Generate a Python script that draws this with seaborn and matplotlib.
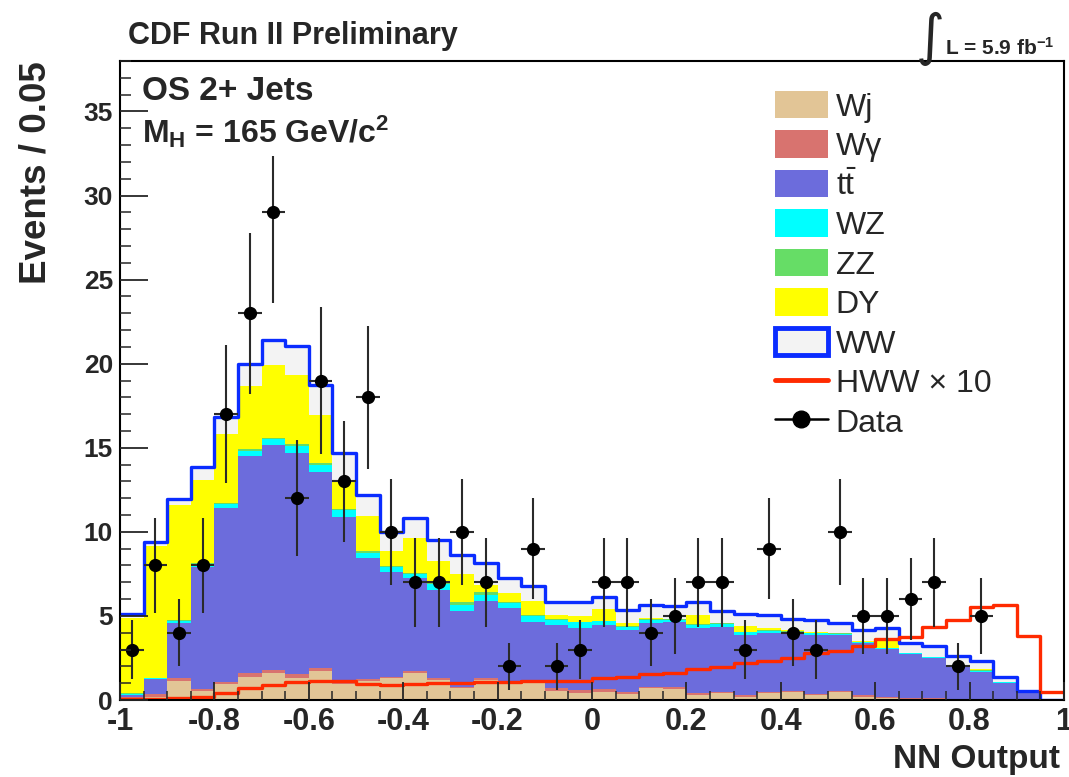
import numpy as np
import pandas as pd
import matplotlib
matplotlib.use("Agg")
import matplotlib.pyplot as plt
import seaborn as sns
from matplotlib.patches import Patch
from matplotlib.lines import Line2D
from matplotlib.ticker import MultipleLocator, FuncFormatter

# ---------------- data (events per 0.05 bin, NN output -1 .. 1) ----------------
bin_edges = np.linspace(-1.0, 1.0, 41)

wj = [0.10, 0.20, 1.15, 0.53, 0.93, 1.39, 1.58, 1.33, 1.74, 0.93,
      1.15, 1.28, 1.62, 1.19, 0.69, 1.19, 0.99, 0.99, 0.55, 0.43,
      0.50, 0.36, 0.69, 0.63, 0.30, 0.40, 0.20, 0.40, 0.46, 0.30,
      0.50, 0.20, 0.10, 0.05, 0.05, 0.05, 0.04, 0.02, 0.01, 0.00]
wgamma = [0.10, 0.15, 0.14, 0.12, 0.16, 0.23, 0.20, 0.20, 0.18, 0.12,
          0.12, 0.09, 0.12, 0.12, 0.10, 0.12, 0.12, 0.12, 0.14, 0.16,
          0.13, 0.14, 0.10, 0.12, 0.10, 0.10, 0.10, 0.10, 0.08, 0.08,
          0.05, 0.10, 0.05, 0.05, 0.05, 0.03, 0.02, 0.02, 0.01, 0.00]
ttbar = [0.10, 0.88, 3.26, 7.27, 10.30, 12.88, 13.37, 13.17, 11.65, 9.85,
         7.15, 6.22, 5.49, 5.26, 4.52, 4.59, 4.34, 3.54, 3.77, 3.72,
         3.82, 3.64, 3.76, 3.90, 3.90, 3.86, 3.58, 3.49, 3.40, 3.50,
         3.31, 3.07, 2.88, 2.63, 2.38, 1.90, 1.62, 0.99, 0.38, 0.01]
wz = [0.08, 0.07, 0.16, 0.18, 0.24, 0.30, 0.35, 0.40, 0.43, 0.38,
      0.33, 0.31, 0.27, 0.33, 0.33, 0.34, 0.33, 0.35, 0.29, 0.31,
      0.23, 0.22, 0.20, 0.12, 0.16, 0.16, 0.14, 0.13, 0.12, 0.10,
      0.07, 0.08, 0.07, 0.05, 0.05, 0.05, 0.06, 0.03, 0.03, 0.00]
zz = [0.02, 0.03, 0.04, 0.04, 0.07, 0.10, 0.10, 0.12, 0.12, 0.07,
      0.10, 0.08, 0.08, 0.08, 0.20, 0.16, 0.06, 0.05, 0.05, 0.04,
      0.04, 0.04, 0.04, 0.03, 0.04, 0.04, 0.03, 0.03, 0.03, 0.03,
      0.03, 0.02, 0.02, 0.02, 0.02, 0.02, 0.02, 0.01, 0.01, 0.00]
dy = [4.45, 7.84, 6.84, 4.97, 4.14, 3.76, 4.30, 4.09, 2.85, 1.75,
      2.10, 0.89, 2.07, 1.28, 1.65, 0.43, 0.50, 0.85, 0.25, 0.34,
      0.67, 0.15, 0.09, 0.02, 0.55, 0.04, 0.35, 0.15, 0.07, 0.05,
      0.02, 0.03, 0.38, 0.01, 0.02, 0.03, 0.06, 0.02, 0.03, 0.00]
ww = [0.25, 0.20, 0.35, 0.75, 1.00, 1.32, 1.53, 1.72, 1.79, 1.60,
      1.27, 1.13, 1.18, 1.25, 1.11, 1.29, 0.91, 0.85, 0.77, 0.82,
      0.75, 0.80, 0.74, 0.75, 0.79, 0.70, 0.73, 0.75, 0.63, 0.69,
      0.62, 0.66, 0.80, 0.60, 0.64, 0.53, 0.50, 0.26, 0.06, 0.01]
hww_x10 = [0.03, 0.05, 0.10, 0.20, 0.44, 0.69, 0.89, 1.09, 1.15, 1.15,
           0.93, 0.89, 0.93, 0.99, 1.03, 1.09, 1.09, 1.13, 1.15, 1.15,
           1.29, 1.39, 1.53, 1.62, 1.82, 1.94, 2.18, 2.32, 2.48, 2.77,
           2.93, 3.23, 3.60, 3.76, 4.36, 4.75, 5.55, 5.65, 3.80, 0.48]
data = [3, 8, 4, 8, 17, 23, 29, 12, 19, 13,
        18, 10, 7, 7, 10, 7, 2, 9, 2, 3,
        7, 7, 4, 5, 7, 7, 3, 9, 4, 3,
        10, 5, 5, 6, 7, 2, 5, np.nan, np.nan, np.nan]

labels = ["Wj", "W\u03b3", r"$\mathregular{t\bar{t}}$", "WZ", "ZZ", "DY", "WW"]
colors = ["#e2c596", "#d8736f", "#6c6cdc", "#00ffff", "#66dd66", "#ffff00", "#f3f3f3"]
ww_edge = "#0a2cff"
hww_color = "#ff2a00"

# ---------------- style ----------------
sns.set_style("ticks")
plt.rcParams["font.family"] = ["Liberation Sans", "DejaVu Sans"]
plt.rcParams["mathtext.fontset"] = "custom"
plt.rcParams["mathtext.rm"] = "Liberation Sans"
plt.rcParams["mathtext.bf"] = "Liberation Sans:bold"
plt.rcParams["mathtext.default"] = "regular"
plt.rcParams["axes.unicode_minus"] = False

W, H = 1069, 777
fig = plt.figure(figsize=(W / 100, H / 100), dpi=100)
fig.patch.set_facecolor("white")
ax = fig.add_axes([120 / W, 77 / H, 944 / W, 639 / H])
ax.set_facecolor("white")


def fx(px):
    return px / W


def fy(py):
    return 1 - py / H


centers = 0.5 * (bin_edges[:-1] + bin_edges[1:])
edges_list = [float(e) for e in bin_edges]
stack = np.array([wj, wgamma, ttbar, wz, zz, dy, ww], dtype=float)
cum = np.cumsum(stack, axis=0)

df = pd.DataFrame({"nn": centers})
for k in range(len(labels)):
    df["cum%d" % k] = cum[k]
df["hww"] = np.array(hww_x10, dtype=float)

# stacked histograms drawn like a ROOT THStack: largest cumulative first
for k in range(len(labels) - 1, -1, -1):
    sns.histplot(data=df, x="nn", weights="cum%d" % k, bins=edges_list, element="step",
                 fill=True, color=colors[k], alpha=1, linewidth=0, ax=ax,
                 zorder=1)

# WW outline (total) in blue
sns.histplot(data=df, x="nn", weights="cum%d" % (len(labels) - 1), bins=edges_list,
             element="step", fill=False, color=ww_edge, linewidth=2.4, ax=ax,
             zorder=1.6)
# Higgs signal x10
sns.histplot(data=df, x="nn", weights="hww", bins=edges_list, element="step",
             fill=False, color=hww_color, linewidth=2.4, ax=ax, zorder=1.8)

# data points
data_arr = np.array(data, dtype=float)
ax.errorbar(centers, data_arr, yerr=np.sqrt(data_arr), xerr=0.025,
            fmt="o", color="black", ecolor="#2a2a2a", ms=8.5, elinewidth=1.5,
            capsize=0, zorder=2.2)

# ---------------- axes ----------------
ax.set_xlim(-1, 1)
ax.set_ylim(0, 38)
ax.set_xlabel("")
ax.set_ylabel("")
ax.set_axisbelow(False)
for s in ax.spines.values():
    s.set_visible(True)
    s.set_linewidth(1.5)
    s.set_color("black")

ax.xaxis.set_major_locator(MultipleLocator(0.2))
ax.xaxis.set_minor_locator(MultipleLocator(0.05))
ax.yaxis.set_major_locator(MultipleLocator(5))
ax.yaxis.set_minor_locator(MultipleLocator(1))
ax.xaxis.set_major_formatter(FuncFormatter(lambda v, p: "%g" % round(v, 2)))
ax.yaxis.set_major_formatter(FuncFormatter(lambda v, p: "%d" % round(v)))

ax.tick_params(axis="x", which="major", direction="in", length=13, width=1.3,
               labelsize=22, pad=5, top=False)
ax.tick_params(axis="x", which="minor", direction="in", length=6.5, width=1.1, top=False)
ax.tick_params(axis="y", which="major", direction="in", length=20, width=1.3,
               labelsize=19, pad=5, right=False)
ax.tick_params(axis="y", which="minor", direction="in", length=8, width=1.1, right=False)
for lab in ax.get_xticklabels() + ax.get_yticklabels():
    lab.set_fontweight("bold")

# ---------------- texts ----------------
fig.text(fx(36), fy(61), "Events / 0.05", rotation=90, ha="center", va="top",
         fontsize=26.5, fontweight="bold")
fig.text(fx(1060), fy(768), "NN Output", ha="right", va="baseline",
         fontsize=24, fontweight="bold")
fig.text(fx(128), fy(44), "CDF Run II Preliminary", ha="left", va="baseline",
         fontsize=22, fontweight="bold")
fig.text(fx(916), fy(54), "\u222b", ha="left", va="baseline", fontsize=40,
         family=["DejaVu Sans"])
fig.text(fx(945), fy(55), r"L = 5.9 fb$^{\mathbf{-1}}$", ha="left", va="baseline",
         fontsize=15, fontweight="bold")

ax.text(fx(142), fy(100), "OS 2+ Jets", transform=fig.transFigure, ha="left",
        va="baseline", fontsize=24, fontweight="bold", zorder=2.4)
ax.text(fx(142), fy(143), r"M$_{\mathbf{H}}$ = 165 GeV/c$^{\mathbf{2}}$",
        transform=fig.transFigure, ha="left", va="baseline", fontsize=23,
        fontweight="bold", zorder=2.4,
        bbox=dict(facecolor="white", edgecolor="none", pad=4))

# ---------------- legend ----------------
handles = [Patch(facecolor=c, edgecolor="none") for c in colors[:-1]]
handles.append(Patch(facecolor=colors[-1], edgecolor=ww_edge, linewidth=3.5))
handles.append(Line2D([], [], color=hww_color, lw=3.5))
handles.append(Line2D([], [], color="black", marker="o", ms=12, lw=1.8))
leg_labels = labels + ["HWW \u00d7 10", "Data"]
leg = ax.legend(handles, leg_labels, loc="upper left",
                bbox_to_anchor=(fx(775), fy(91)), bbox_transform=fig.transFigure,
                frameon=False, fontsize=23, borderpad=0, borderaxespad=0,
                handlelength=1.65, handleheight=0.94, handletextpad=0.25,
                labelspacing=0.245, numpoints=1)

fig.savefig("out.png", dpi=100, facecolor="white")
